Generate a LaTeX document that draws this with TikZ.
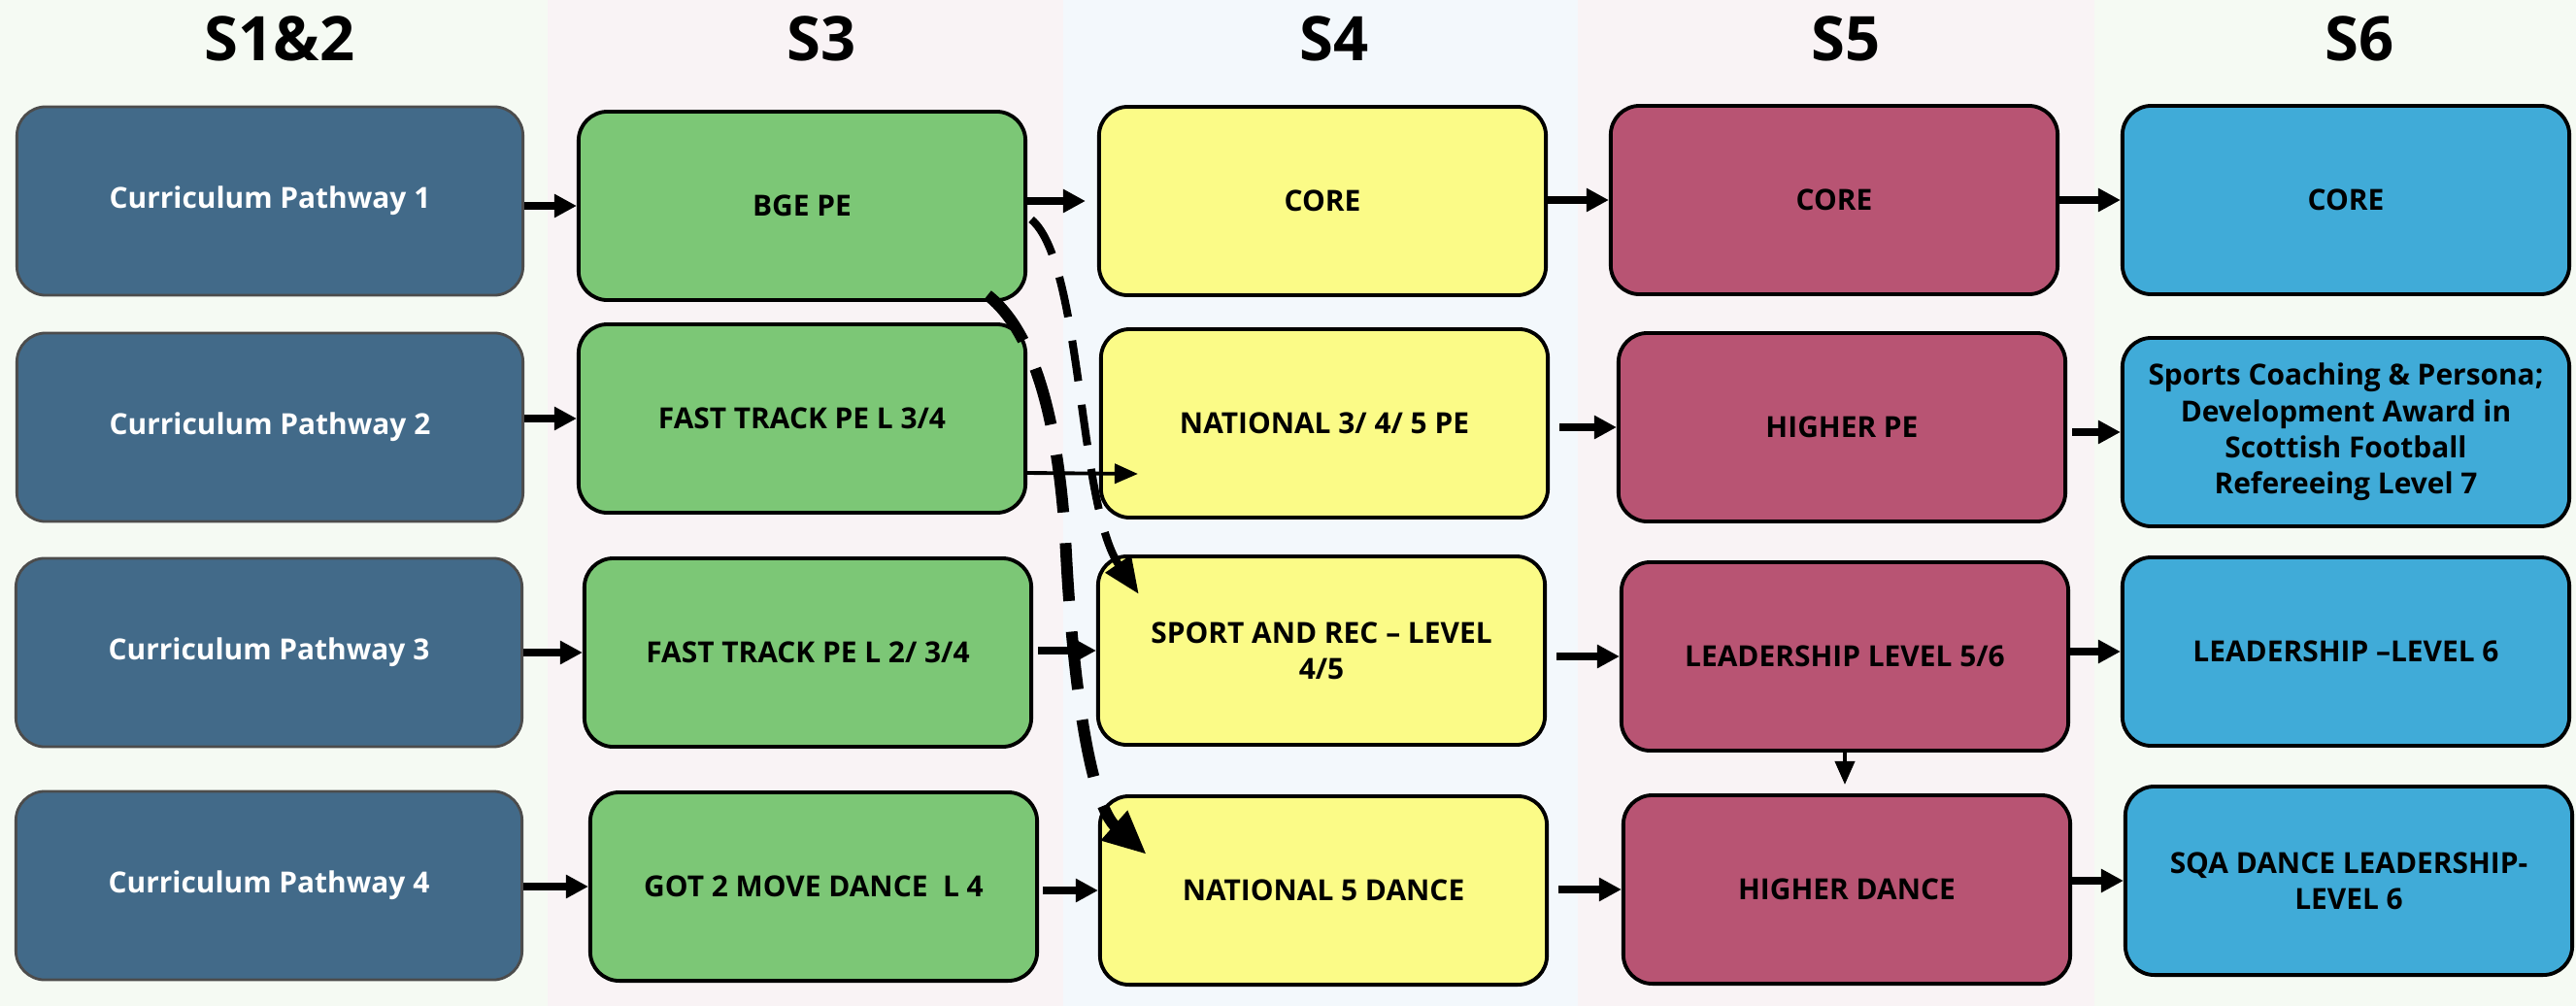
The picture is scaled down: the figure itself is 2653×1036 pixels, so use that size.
\documentclass[tikz,border=0pt]{standalone}
\usepackage{fontspec}
\setmainfont{Open Sans}
\usetikzlibrary{arrows.meta}

\definecolor{pathblue}{RGB}{66,106,137}
\definecolor{bgegreen}{RGB}{124,199,118}
\definecolor{natyellow}{RGB}{251,251,135}
\definecolor{highred}{RGB}{184,84,115}
\definecolor{coreblue}{RGB}{64,171,216}
\definecolor{bandgreen}{RGB}{245,250,243}
\definecolor{bandpink}{RGB}{249,243,245}
\definecolor{bandblue}{RGB}{243,248,252}

\begin{document}
\begin{tikzpicture}[x=0.01cm,y=-0.01cm,
    box/.style={draw,line width=1.1pt,rounded corners=8.5pt,minimum width=4.6cm,
      minimum height=1.94cm,align=center,inner sep=2pt,
      font=\fontsize{8.5}{10.6}\selectfont\bfseries},
    pathbox/.style={box,fill=pathblue,draw=black!70,line width=0.8pt,
      minimum width=5.21cm,text=white},
    s3box/.style={box,fill=bgegreen},
    s4box/.style={box,fill=natyellow},
    s5box/.style={box,fill=highred},
    s6box/.style={box,fill=coreblue},
    hdr/.style={font=\fontsize{18}{20}\selectfont\bfseries},
    flow/.style={-{Triangle[length=0.23cm,width=0.23cm]},line width=2pt},
    thinflow/.style={-{Triangle[length=0.24cm,width=0.2cm]},line width=1.1pt},
    dashA/.style={-{Triangle[length=0.38cm,width=0.3cm]},line width=2.3pt,
      dash pattern=on 12pt off 7pt},
    dashB/.style={-{Triangle[length=0.45cm,width=0.38cm]},line width=3.4pt,
      dash pattern=on 17pt off 9pt}]

  \useasboundingbox (0,0) rectangle (2653,1036);

  % year bands
  \fill [bandgreen] (0,0) rectangle (564,1036);
  \fill [bandpink] (564,0) rectangle (1095,1036);
  \fill [bandblue] (1095,0) rectangle (1625,1036);
  \fill [bandpink] (1625,0) rectangle (2157,1036);
  \fill [bandgreen] (2157,0) rectangle (2653,1036);

  \node[hdr] (h12) at (288,40) {S1\&2};
  \node[hdr] (h3) at (846,40) {S3};
  \node[hdr] (h4) at (1374,40) {S4};
  \node[hdr] (h5) at (1901,40) {S5};
  \node[hdr] (h6) at (2430,40) {S6};

  \node[pathbox] (pw1) at (278,207) {Curriculum Pathway 1};
  \node[pathbox] (pw2) at (278,440) {Curriculum Pathway 2};
  \node[pathbox] (pw3) at (277,672) {Curriculum Pathway 3};
  \node[pathbox] (pw4) at (277,912) {Curriculum Pathway 4};

  \node[s3box] (bge) at (826,212) {BGE PE};
  \node[s3box] (ftA) at (826,431) {FAST TRACK PE L 3/4};
  \node[s3box] (ftB) at (832,672) {FAST TRACK PE L 2/ 3/4};
  \node[s3box] (got) at (838,913) {GOT 2 MOVE DANCE\ \ L 4};

  \node[s4box] (core4) at (1362,207) {CORE};
  \node[s4box] (nat4) at (1364,436) {NATIONAL 3/ 4/ 5 PE};
  \node[s4box] (sport4) at (1361,670) {SPORT AND REC -- LEVEL\\4/5};
  \node[s4box] (dance4) at (1363,917) {NATIONAL 5 DANCE};

  \node[s5box] (core5) at (1889,206) {CORE};
  \node[s5box] (higher5) at (1897,440) {HIGHER PE};
  \node[s5box] (lead5) at (1900,676) {LEADERSHIP LEVEL 5/6};
  \node[s5box] (dance5) at (1902,916) {HIGHER DANCE};

  \node[s6box] (core6) at (2416,206) {CORE};
  \node[s6box] (award6) at (2416,445) {Sports Coaching \& Persona;\\Development Award in\\Scottish Football\\Refereeing Level 7};
  \node[s6box] (lead6) at (2416,671) {LEADERSHIP --LEVEL 6};
  \node[s6box] (dance6) at (2419,907) {SQA DANCE LEADERSHIP-\\LEVEL 6};

  % S1&2 -> S3
  \draw[flow] (pw1.east |- bge.west) -- (bge.west);
  \draw[flow] (pw2.east |- ftA.west) -- (ftA.west);
  \draw[flow] (pw3.east) -- (ftB.west);
  \draw[flow] (pw4.east |- got.west) -- (got.west);

  % S3 -> S4
  \draw[flow, shorten >=0.12cm] (bge.east |- core4.west) -- (core4.west);
  \draw[thinflow] ([shift={(0,56)}]ftA.east) -- ([shift={(40,52)}]nat4.west);
  \draw[flow, shorten <=0.05cm] (ftB.east |- sport4.west) -- (sport4.west);
  \draw[flow, shorten <=0.04cm] (got.east |- dance4.west) -- (dance4.west);

  % S4 -> S5
  \draw[flow] (core4.east |- core5.west) -- (core5.west);
  \draw[flow, shorten <=0.1cm] (nat4.east |- higher5.west) -- (higher5.west);
  \draw[flow, shorten <=0.1cm] (sport4.east |- lead5.west) -- (lead5.west);
  \draw[flow, shorten <=0.1cm] (dance4.east |- dance5.west) -- (dance5.west);
  \draw[thinflow, shorten >=0.09cm] (lead5.south) -- (dance5.north -| lead5.south);

  % S5 -> S6
  \draw[flow] (core5.east) -- (core6.west);
  \draw[flow, shorten <=0.05cm] (higher5.east |- award6.west) -- (award6.west);
  \draw[flow] (lead5.east |- lead6.west) -- (lead6.west);
  \draw[flow] (dance5.east |- dance6.west) -- (dance6.west);

  % dashed routes
  \draw[dashA] ([shift={(4,14)}]bge.east) .. controls (1115,270) and (1110,520) .. ([shift={(44,41)}]sport4.north west);
  \draw[dashB] ([shift={(-41,-7)}]bge.south east) .. controls (1070,345) and (1092,450) .. (1098,570)
    .. controls (1106,720) and (1125,830) .. ([shift={(50,62)}]dance4.north west);
\end{tikzpicture}
\end{document}
